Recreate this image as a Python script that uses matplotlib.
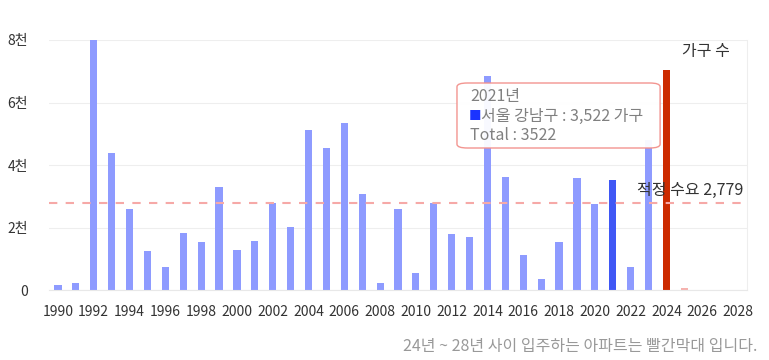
import matplotlib
matplotlib.use("Agg")
import matplotlib.pyplot as plt
from matplotlib.patches import FancyBboxPatch

plt.rcParams['font.family'] = ['Noto Sans CJK KR', 'DejaVu Sans']

years = list(range(1990, 2029))
values = [170, 210, 8000, 4400, 2600, 1250, 750, 1810, 1540, 3300,
          1280, 1580, 2770, 2030, 5120, 4540, 5360, 3060, 210, 2600,
          530, 2800, 1780, 1700, 6850, 3630, 1120, 340, 1540, 3600,
          2740, 3522, 750, 4800, 7040, 50, 0, 0, 0]
highlight_year = 2021
future_years = [2024, 2025, 2026, 2027, 2028]
demand = 2779
ytick_vals = [0, 2000, 4000, 6000, 8000]
ytick_labels = ['0', '2천', '4천', '6천', '8천']
xtick_years = list(range(1990, 2029, 2))

c_base = '#8e9bff'
c_high = '#3f57f5'
c_future = '#cc2b00'
c_future_small = '#f6b2ae'

colors = []
for y, v in zip(years, values):
    if y == highlight_year:
        colors.append(c_high)
    elif y in future_years:
        colors.append(c_future if y == 2024 else c_future_small)
    else:
        colors.append(c_base)

fig = plt.figure(figsize=(7.69, 3.6), dpi=100)
ax = fig.add_axes([49/769, 1-290/360, 698/769, 250/360])

x = list(range(len(years)))
ax.bar(x, values, width=0.4, color=colors, zorder=2)

ax.set_xlim(-0.5, len(years)-0.5)
ax.set_ylim(0, 8000)
ax.set_yticks(ytick_vals)
ax.set_yticklabels(ytick_labels)
ax.set_xticks([years.index(y) for y in xtick_years])
ax.set_xticklabels([str(y) for y in xtick_years])
ax.tick_params(axis='both', length=0, labelsize=10, colors='#333333')
ax.tick_params(axis='y', pad=15)
ax.tick_params(axis='x', pad=11)
ax.grid(axis='y', color='#eeeeee', lw=0.8, zorder=0)
for s in ['left', 'top']:
    ax.spines[s].set_visible(False)
ax.spines['bottom'].set_color('#e8e8e8')
ax.spines['right'].set_color('#eeeeee')
ax.spines['right'].set_linewidth(0.8)

ax.axhline(demand, color='#f6a9a7', lw=1.5, ls=(0, (4, 4)), zorder=3)
ax.text(0.995, demand + 120, f'적정 수요 {demand:,}', transform=ax.get_yaxis_transform(),
        ha='right', va='bottom', fontsize=11.5, color='#333333', zorder=4)
ax.text(0.941, 0.955, '가구 수', transform=ax.transAxes, ha='center', va='center',
        fontsize=11.5, color='#333333')

# tooltip
tip = FancyBboxPatch((0.5845, 0.568), 0.291, 0.26, boxstyle='round,pad=0,rounding_size=0.015',
                     transform=ax.transAxes, facecolor='white', edgecolor='#f28f8a',
                     lw=1.0, alpha=0.95, zorder=5)
ax.add_patch(tip)
hv = values[years.index(highlight_year)]
ax.text(0.603, 0.772, f'{highlight_year}년', transform=ax.transAxes, fontsize=11.5,
        color='#808080', va='center', zorder=6)
ax.text(0.601, 0.695, '■', transform=ax.transAxes, fontsize=9,
        color='#1a33ff', va='center', zorder=6)
ax.text(0.619, 0.695, f'서울 강남구 : {hv:,} 가구', transform=ax.transAxes, fontsize=11.5,
        color='#808080', va='center', zorder=6)
ax.text(0.603, 0.618, f'Total : {hv}', transform=ax.transAxes, fontsize=11.5,
        color='#808080', va='center', zorder=6)

fig.text(757/769, 1-346/360, '24년 ~ 28년 사이 입주하는 아파트는 빨간막대 입니다.',
         ha='right', va='center', fontsize=11.5, color='#999999')

fig.savefig('out.png', dpi=100)
